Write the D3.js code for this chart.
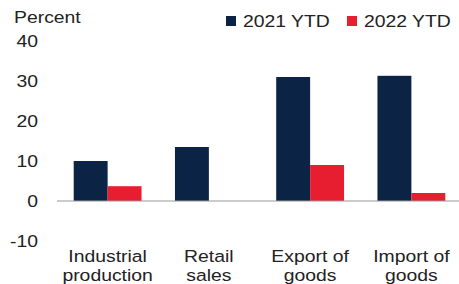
<!DOCTYPE html>
<html>
<head>
<meta charset="utf-8">
<script src="https://cdn.jsdelivr.net/npm/d3@7"></script>
<style>
  body { margin: 0; background: #fff; }
  text { font-family: "Liberation Sans", Arial, sans-serif; fill: #222; font-size: 17px; }
</style>
</head>
<body>
<div id="chart"></div>
<script>
// chart values
const categories = ["Industrial production", "Retail sales", "Export of goods", "Import of goods"];
const labelLines = [["Industrial", "production"], ["Retail", "sales"], ["Export of", "goods"], ["Import of", "goods"]];
const seriesNames = ["2021 YTD", "2022 YTD"];
const ytd2021 = [10, 13.5, 31, 31.3];
const ytd2022 = [3.7, null, 9, 2];
const yTicks = [-10, 0, 10, 20, 30, 40];
const colors = ["#0b2445", "#e61e2f"];

const width = 459;
const height = 284;
const margin = {top: 41, left: 57, right: -3, bottom: 43};
const stretch = 1.14; // text in the source looks a bit wider than Arial

const svg = d3.select("#chart")
    .append("svg")
    .attr("width", width)
    .attr("height", height);

// put text at (px,py) with a horizontal stretch around its anchor
const place = (px, py) => `translate(${px},${py}) scale(${stretch},1)`;

const x = d3.scaleBand()
    .domain(categories)
    .range([margin.left, width - margin.right])
    .paddingInner(0.33)
    .paddingOuter(0.165);

const xSub = d3.scaleBand()
    .domain(seriesNames)
    .range([0, x.bandwidth()]);

const y = d3.scaleLinear()
    .domain([-10, 40])
    .range([height - margin.bottom, margin.top]);

// y tick labels, no axis line
svg.append("g")
    .selectAll("text")
    .data(yTicks)
    .join("text")
    .attr("transform", d => place(38, y(d)))
    .attr("dy", "0.36em")
    .attr("text-anchor", "end")
    .text(d => d);

svg.append("text")
    .attr("transform", place(14, 23))
    .text("Percent");

// bars
const rows = categories.map((c, i) => ({cat: c, vals: [ytd2021[i], ytd2022[i]]}));

svg.append("g")
    .selectAll("g")
    .data(rows)
    .join("g")
    .attr("transform", d => `translate(${x(d.cat)},0)`)
    .selectAll("rect")
    .data(d => d.vals.map((v, j) => ({name: seriesNames[j], v, j})).filter(e => e.v != null))
    .join("rect")
    .attr("x", d => xSub(d.name))
    .attr("width", xSub.bandwidth())
    .attr("y", d => y(Math.max(0, d.v)))
    .attr("height", d => Math.abs(y(d.v) - y(0)))
    .attr("fill", d => colors[d.j]);

// zero line
svg.append("line")
    .attr("x1", margin.left)
    .attr("x2", width)
    .attr("y1", y(0))
    .attr("y2", y(0))
    .attr("stroke", "#999")
    .attr("stroke-width", 1);

// category labels
svg.append("g")
    .selectAll("text")
    .data(categories)
    .join("text")
    .attr("transform", d => place(x(d) + x.bandwidth() / 2, 262))
    .attr("text-anchor", "middle")
    .each(function (d, i) {
        d3.select(this).selectAll("tspan")
            .data(labelLines[i])
            .join("tspan")
            .attr("x", 0)
            .attr("dy", (t, k) => k === 0 ? 0 : 19)
            .text(t => t);
    });

// legend
const legendX = [226, 347];
const leg = svg.append("g")
    .selectAll("g")
    .data(seriesNames)
    .join("g")
    .attr("transform", (d, i) => `translate(${legendX[i]},0)`);

leg.append("rect")
    .attr("x", 0)
    .attr("y", 16)
    .attr("width", 10)
    .attr("height", 10)
    .attr("fill", (d, i) => colors[i]);

leg.append("text")
    .attr("transform", place(17, 27))
    .text(d => d);
</script>
</body>
</html>
